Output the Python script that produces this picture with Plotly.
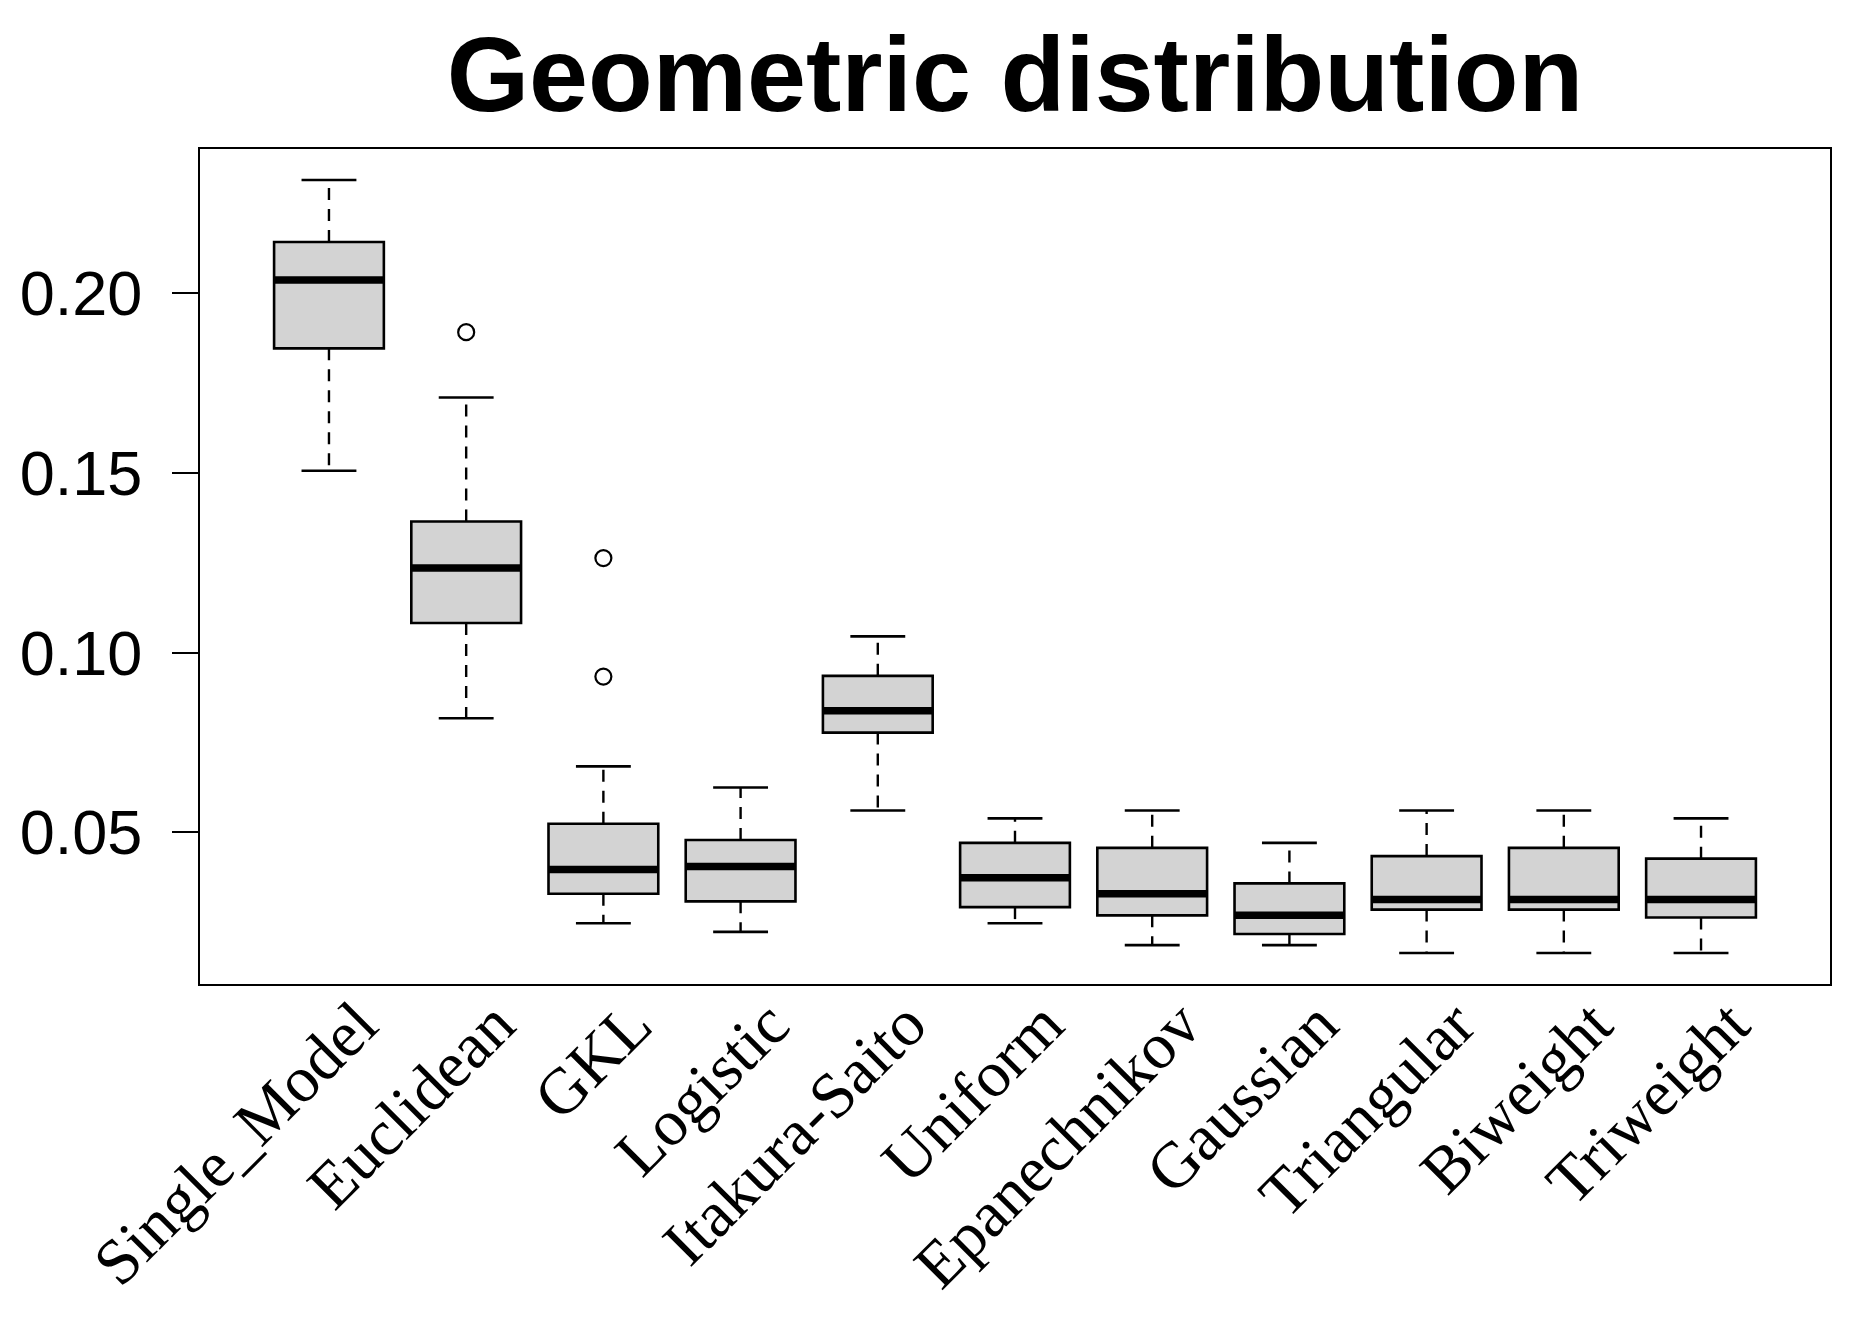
import plotly.graph_objects as go

categories = ["Single_Model", "Euclidean", "GKL", "Logistic", "Itakura-Saito",
              "Uniform", "Epanechnikov", "Gaussian", "Triangular", "Biweight", "Triweight"]
lower_whisker = [0.1506, 0.0817, 0.0246, 0.0222, 0.0560, 0.0246, 0.0185, 0.0185, 0.0163, 0.0163, 0.0163]
q1_vals       = [0.1847, 0.1082, 0.0328, 0.0307, 0.0777, 0.0291, 0.0268, 0.0216, 0.0284, 0.0284, 0.0262]
median_vals   = [0.2037, 0.1235, 0.0396, 0.0404, 0.0838, 0.0373, 0.0328, 0.0268, 0.0312, 0.0312, 0.0312]
q3_vals       = [0.2143, 0.1365, 0.0523, 0.0478, 0.0935, 0.0470, 0.0456, 0.0357, 0.0433, 0.0456, 0.0426]
upper_whisker = [0.2316, 0.1710, 0.0683, 0.0624, 0.1045, 0.0538, 0.0560, 0.0470, 0.0560, 0.0560, 0.0538]
outlier_group = ["Euclidean", "GKL", "GKL"]
outlier_vals  = [0.1892, 0.1263, 0.0933]
ytick_vals = [0.05, 0.10, 0.15, 0.20]
ytick_text = ["0.05", "0.10", "0.15", "0.20"]

n = len(categories)
pos = list(range(1, n + 1))
box_w = 0.8
cap_w = 0.4

fig = go.Figure()

# box bodies
fig.add_trace(go.Box(
    x=pos, q1=q1_vals, median=median_vals, q3=q3_vals,
    lowerfence=q1_vals, upperfence=q3_vals,
    width=box_w, fillcolor="#D3D3D3",
    line=dict(color="black", width=2.6),
    boxpoints=False, showlegend=False, hoverinfo="skip",
))

# whiskers (dashed)
wx, wy = [], []
for i, p in enumerate(pos):
    wx += [p, p, None, p, p, None]
    wy += [q3_vals[i], upper_whisker[i], None, q1_vals[i], lower_whisker[i], None]
fig.add_trace(go.Scatter(x=wx, y=wy, mode="lines",
                         line=dict(color="black", width=2.4, dash="12px,9px"),
                         showlegend=False, hoverinfo="skip"))

# whisker caps
cx, cy = [], []
for i, p in enumerate(pos):
    cx += [p - cap_w / 2, p + cap_w / 2, None, p - cap_w / 2, p + cap_w / 2, None]
    cy += [upper_whisker[i], upper_whisker[i], None, lower_whisker[i], lower_whisker[i], None]
fig.add_trace(go.Scatter(x=cx, y=cy, mode="lines",
                         line=dict(color="black", width=2.6),
                         showlegend=False, hoverinfo="skip"))

# thick medians
mx, my = [], []
for i, p in enumerate(pos):
    mx += [p - box_w / 2, p + box_w / 2, None]
    my += [median_vals[i], median_vals[i], None]
fig.add_trace(go.Scatter(x=mx, y=my, mode="lines",
                         line=dict(color="black", width=7.5),
                         showlegend=False, hoverinfo="skip"))

# outliers
ox = [pos[categories.index(g)] for g in outlier_group]
fig.add_trace(go.Scatter(x=ox, y=outlier_vals, mode="markers",
                         marker=dict(symbol="circle-open", size=16, color="black",
                                     line=dict(width=2.2, color="black")),
                         showlegend=False, hoverinfo="skip"))

# R-style axis ranges (4% extension)
xlo, xhi = 0.5, n + 0.5
xr = [xlo - 0.04 * (xhi - xlo), xhi + 0.04 * (xhi - xlo)]
ymin = min(lower_whisker + outlier_vals)
ymax = max(upper_whisker + outlier_vals)
yr = [ymin - 0.04 * (ymax - ymin), ymax + 0.04 * (ymax - ymin)]

fig.update_layout(
    width=1876, height=1334,
    margin=dict(l=188, r=54, t=141, b=358),
    paper_bgcolor="white", plot_bgcolor="white",
    title=dict(text="<b>Geometric distribution</b>",
               font=dict(family="Liberation Sans, Arial", size=106, color="black"),
               x=0.5, xref="paper", xanchor="center",
               y=1 - 66 / 1334, yref="container", yanchor="middle"),
    xaxis=dict(range=xr, tickmode="array", tickvals=pos, ticktext=categories,
               tickangle=-45, ticks="", showgrid=False, zeroline=False,
               showline=True, mirror=True, linecolor="black", linewidth=2.2,
               tickfont=dict(family="Liberation Serif, Times New Roman", size=65, color="black"),
               ticklabelstandoff=-26, ticklabelshift=29),
    yaxis=dict(range=yr, tickmode="array", tickvals=ytick_vals, ticktext=ytick_text,
               ticks="outside", ticklen=26, tickwidth=2.2, tickcolor="black",
               showgrid=False, zeroline=False,
               showline=True, mirror=True, linecolor="black", linewidth=2.2,
               tickfont=dict(family="Liberation Sans, Arial", size=63, color="black"),
               ticklabelstandoff=17),
)

fig.write_html("out.html")
